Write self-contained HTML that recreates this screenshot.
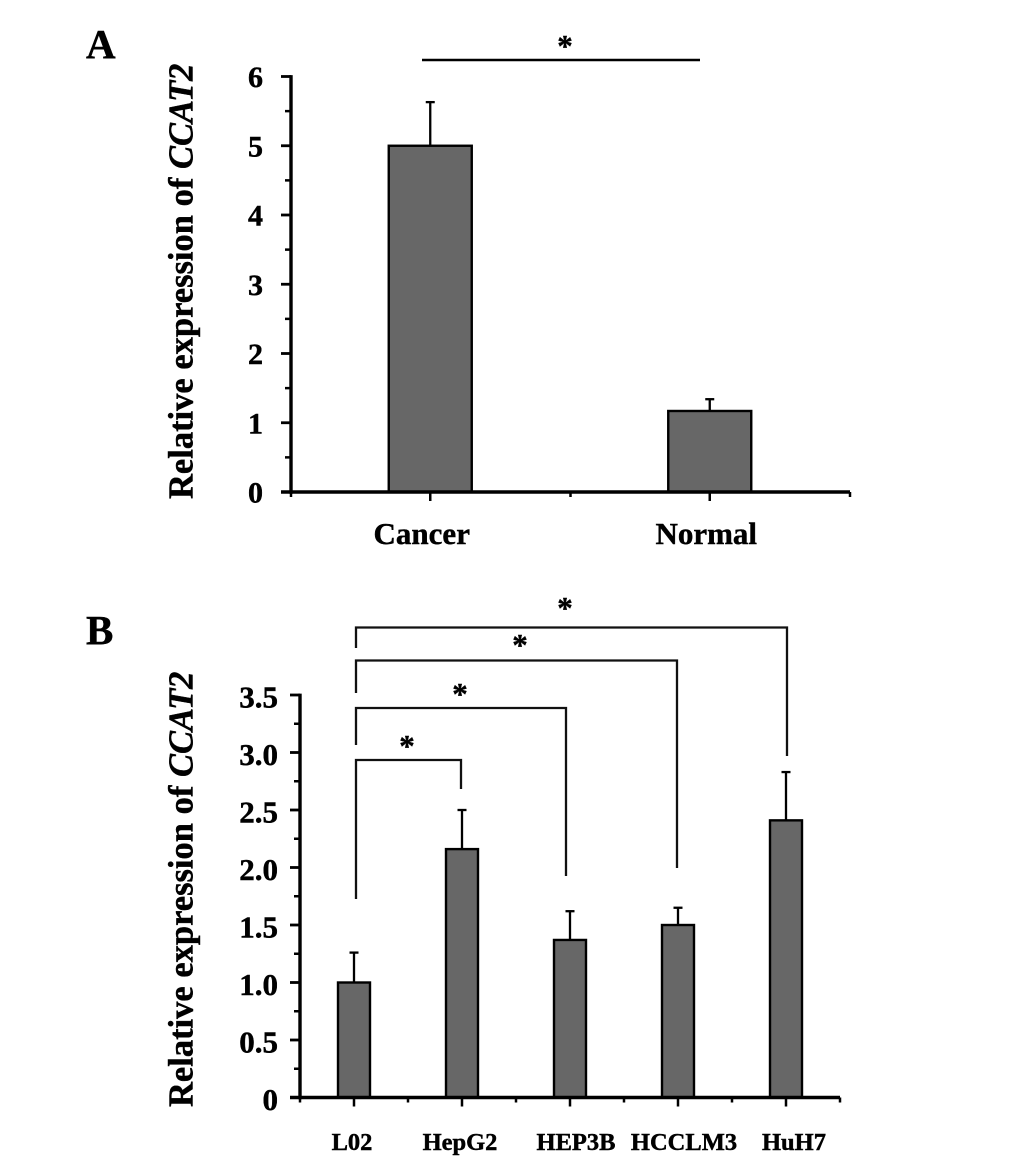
<!DOCTYPE html>
<html lang="en">
<head>
<meta charset="utf-8">
<title>Relative expression of CCAT2</title>
<style>
html,body{margin:0;padding:0;background:#fff;}
svg{display:block;}
text{font-family:"Liberation Serif",serif;font-weight:bold;fill:#000;stroke:#000;stroke-width:0.45px;}
</style>
</head>
<body>
<svg id="fig" xmlns="http://www.w3.org/2000/svg" width="1033" height="1161" viewBox="0 0 1033 1161">
  <text x="86" y="58" font-size="41">A</text>
  <text x="86" y="644" font-size="41">B</text>
  <text transform="translate(192.5,499) rotate(-90)" font-size="34.5">Relative expression of <tspan font-style="italic">CCAT2</tspan></text>
  <text transform="translate(192.5,1107) rotate(-90)" font-size="34.5">Relative expression of <tspan font-style="italic">CCAT2</tspan></text>

  <g fill="none" stroke="#000" stroke-width="2.4">
    <path d="M422 60H700"/>
  </g>
  <text x="565" y="56" font-size="31" text-anchor="middle">*</text>

  <g fill="none" stroke="#111" stroke-width="2.3">
    <path d="M356 899V760H461V789"/>
    <path d="M356 745V708H566V876"/>
    <path d="M356 693V660.5H677V868"/>
    <path d="M356 648V627.5H787V756"/>
  </g>
  <text x="407" y="756" font-size="31" text-anchor="middle">*</text>
  <text x="460" y="704" font-size="31" text-anchor="middle">*</text>
  <text x="520" y="655" font-size="31" text-anchor="middle">*</text>
  <text x="565" y="618" font-size="31" text-anchor="middle">*</text>
</svg>
<script>
const aCategories = ["Cancer", "Normal"];
const aValues = [5.0, 1.17];
const aErrorTops = [5.63, 1.34];
const aTickValues = [0, 1, 2, 3, 4, 5, 6];
const aTickLabels = ["0", "1", "2", "3", "4", "5", "6"];

const bCategories = ["L02", "HepG2", "HEP3B", "HCCLM3", "HuH7"];
const bValues = [1.0, 2.16, 1.37, 1.5, 2.41];
const bErrorTops = [1.26, 2.5, 1.62, 1.65, 2.83];
const bTickValues = [0, 0.5, 1, 1.5, 2, 2.5, 3, 3.5];
const bTickLabels = ["0", "0.5", "1.0", "1.5", "2.0", "2.5", "3.0", "3.5"];

const NS = "http://www.w3.org/2000/svg";
const fig = document.getElementById("fig");

function line(parent, x1, y1, x2, y2, w) {
  const el = document.createElementNS(NS, "line");
  el.setAttribute("x1", x1);
  el.setAttribute("y1", y1);
  el.setAttribute("x2", x2);
  el.setAttribute("y2", y2);
  el.setAttribute("stroke", "#000");
  el.setAttribute("stroke-width", w);
  parent.appendChild(el);
  return el;
}

function drawPanel(p) {
  const maxV = p.ticks[p.ticks.length - 1];
  const y = v => p.y0 - (v / maxV) * (p.y0 - p.yTop);
  const step = (p.xEnd - p.x0) / p.cats.length;
  const x = i => p.x0 + p.xOffset + step * i + step / 2;

  const g = document.createElementNS(NS, "g");
  
  
  fig.appendChild(g);

  p.cats.forEach((c, i) => {
    const cx = x(i);
    const err = line(g, cx, y(p.errs[i]), cx, y(p.vals[i]), 2.3);
    
    
    const cap = line(g, cx - 4.5, y(p.errs[i]), cx + 4.5, y(p.errs[i]), 2.3);
    
    

    const bar = document.createElementNS(NS, "rect");
    bar.setAttribute("x", cx - p.barW / 2);
    bar.setAttribute("y", y(p.vals[i]));
    bar.setAttribute("width", p.barW);
    bar.setAttribute("height", p.y0 - y(p.vals[i]));
    bar.setAttribute("fill", "#676767");
    bar.setAttribute("stroke", "#000");
    bar.setAttribute("stroke-width", "2.4");
    
    
    g.appendChild(bar);

    const lab = document.createElementNS(NS, "text");
    lab.setAttribute("x", cx + p.catDx[i]);
    lab.setAttribute("y", p.catY);
    lab.setAttribute("font-size", p.catSize);
    lab.setAttribute("text-anchor", "middle");
    lab.textContent = c;
    
    
    g.appendChild(lab);

    const tk = line(g, cx, p.y0, cx, p.y0 + 9, 2.5);
    
    
  });

  for (let i = 0; i <= p.cats.length; i++) {
    const bx = p.x0 + step * i;
    const tk = line(g, bx, p.y0, bx, p.y0 + 5, 2.5);
    
    
  }

  p.ticks.forEach((v, i) => {
    const tk = line(g, p.x0 - 10, y(v), p.x0, y(v), 2.8);
    
    
    const lab = document.createElementNS(NS, "text");
    lab.setAttribute("x", p.labelX);
    lab.setAttribute("y", y(v) + p.labelDy);
    lab.setAttribute("font-size", p.labelSize);
    lab.setAttribute("text-anchor", "end");
    lab.textContent = p.labels[i];
    
    
    g.appendChild(lab);
    if (i < p.ticks.length - 1) {
      const mv = (v + p.ticks[i + 1]) / 2;
      const mt = line(g, p.x0 - 6, y(mv), p.x0, y(mv), 2.5);
      
      
    }
  });

  const ya = line(g, p.x0, p.yTop - 1.4, p.x0, p.y0 + 1.7, 3.4);
  
  
  const xa = line(g, p.x0 - 10, p.y0, p.xEnd, p.y0, 3.4);
  
  
}

drawPanel({
  name: "panel-a", cats: aCategories, vals: aValues, errs: aErrorTops,
  ticks: aTickValues, labels: aTickLabels,
  x0: 291, xEnd: 850, xOffset: -0.5, y0: 492, yTop: 76.5, barW: 83,
  catDx: [-8.5, -3.5], catY: 544, catSize: 31,
  labelX: 263, labelDy: 10.5, labelSize: 30
});

drawPanel({
  name: "panel-b", cats: bCategories, vals: bValues, errs: bErrorTops,
  ticks: bTickValues, labels: bTickLabels,
  x0: 300, xEnd: 840, xOffset: 0, y0: 1097.5, yTop: 695, barW: 32,
  catDx: [-2, -2, 6, 6, 8], catY: 1150, catSize: 24.5,
  labelX: 278, labelDy: 12.5, labelSize: 31
});
</script>
</body>
</html>
